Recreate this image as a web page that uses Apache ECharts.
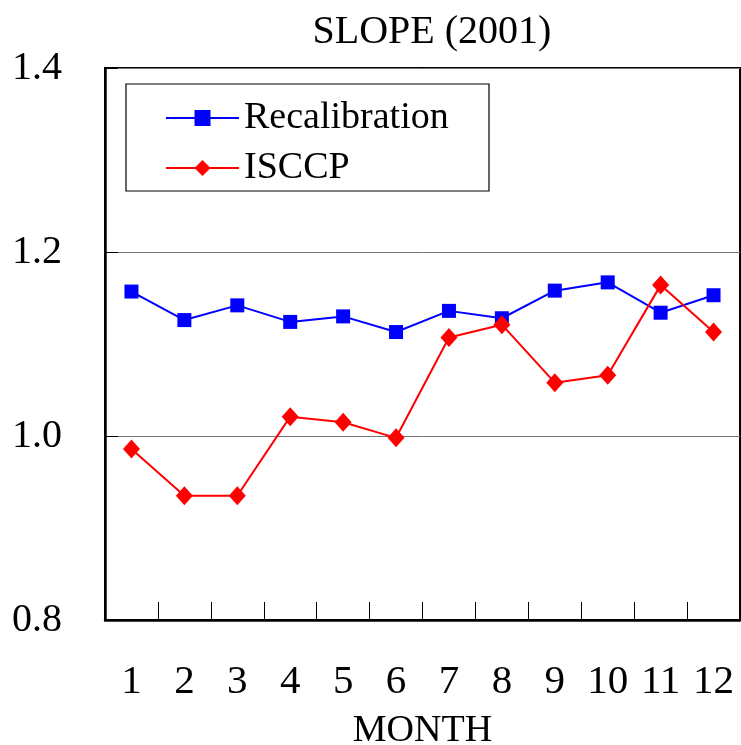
<!DOCTYPE html>
<html><head><meta charset="utf-8">
<script src="https://cdn.jsdelivr.net/npm/echarts@6/dist/echarts.min.js"></script>
<style>html,body{margin:0;padding:0;background:#fff;overflow:hidden}#c{width:741px;height:745px}</style>
</head><body><div id="c"></div>
<script>
const months = ['1','2','3','4','5','6','7','8','9','10','11','12'];
const recalibration = [1.157,1.126,1.142,1.124,1.130,1.113,1.136,1.128,1.158,1.167,1.134,1.153];
const isccp = [0.986,0.935,0.935,1.021,1.015,0.998,1.107,1.121,1.058,1.066,1.164,1.113];
const yTicks = {min:0.8, max:1.4, interval:0.2};
const titleText = 'SLOPE (2001)';
const xName = 'MONTH';
const FONT = 'Liberation Serif';

const chart = echarts.init(document.getElementById('c'), null, {width:741, height:745});
chart.setOption({
  backgroundColor:'#fff',
  animation:false,
  title:{text:titleText,left:427,top:7,textAlign:'center',
    textStyle:{fontFamily:FONT,fontWeight:'normal',fontSize:40,color:'#000'}},
  grid:{left:105,top:68,width:635,height:552,show:true,borderColor:'#000',borderWidth:2,
    containLabel:false,outerBoundsMode:'none'},
  graphic:[{type:'rect',shape:{x:126,y:84,width:363,height:107},style:{fill:'#fff',stroke:'#000',lineWidth:1.2},z:5}],
  legend:{orient:'vertical',left:160,top:94,itemWidth:73,itemHeight:20,itemGap:12,z:10,
    textStyle:{fontFamily:FONT,fontSize:38,color:'#000'},
    data:['Recalibration','ISCCP']},
  xAxis:{type:'category',data:months,boundaryGap:true,
    name:xName,nameLocation:'middle',nameGap:92,
    nameTextStyle:{fontFamily:FONT,fontSize:38,color:'#000'},
    axisLine:{show:true,lineStyle:{color:'#000',width:2.5}},
    axisTick:{show:true,inside:true,interval:0,length:18,lineStyle:{color:'#000',width:1}},
    axisLabel:{margin:42,interval:0,fontFamily:FONT,fontSize:41,color:'#000'}},
  yAxis:{type:'value',min:yTicks.min,max:yTicks.max,interval:yTicks.interval,
    axisLine:{show:true,lineStyle:{color:'#000',width:2.5}},
    axisTick:{show:true,inside:true,length:13,lineStyle:{color:'#000',width:1}},
    splitLine:{lineStyle:{color:'#777',width:1}},
    axisLabel:{margin:43,padding:[8,0,0,0],fontFamily:FONT,fontSize:40,color:'#000',formatter:v=>v.toFixed(1)}},
  series:[
    {name:'Recalibration',type:'line',data:recalibration,color:'#0000ff',
     lineStyle:{width:2,color:'#0000ff'},symbol:'rect',symbolSize:14,
     itemStyle:{color:'#0000ff'}},
    {name:'ISCCP',type:'line',data:isccp,color:'#ff0000',
     lineStyle:{width:2,color:'#ff0000'},symbol:'diamond',symbolSize:[17,19],
     itemStyle:{color:'#ff0000'}}
  ]
});
</script></body></html>
